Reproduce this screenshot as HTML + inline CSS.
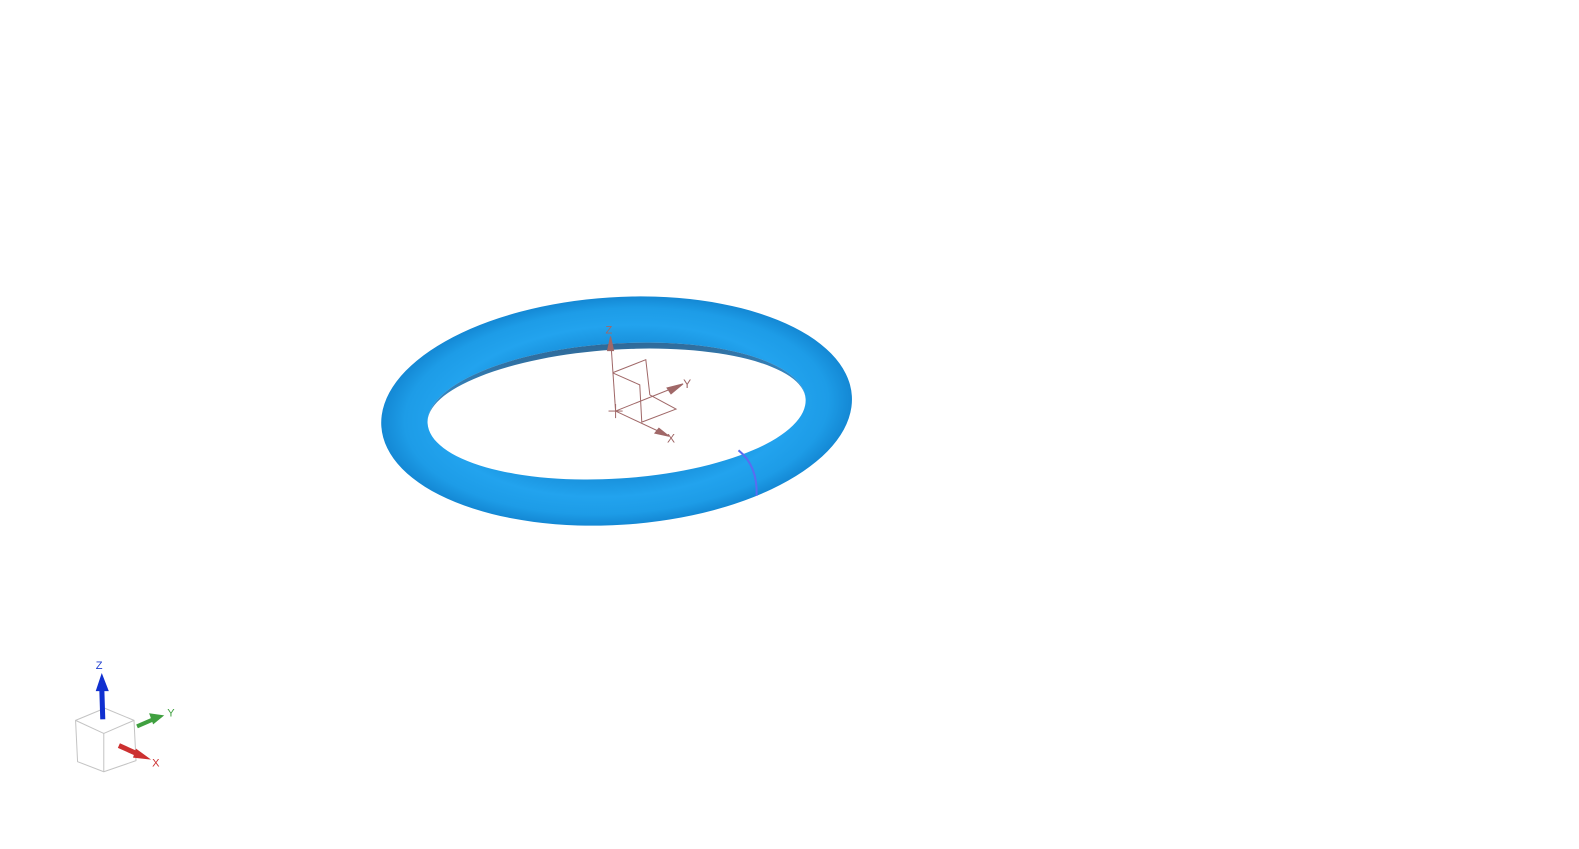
<!DOCTYPE html>
<html><head><meta charset="utf-8"><style>
html,body{margin:0;padding:0;background:#fff;width:1579px;height:849px;overflow:hidden}
text{font-family:"Liberation Sans",sans-serif}
</style></head><body>
<svg width="1579" height="849" viewBox="0 0 1579 849">
<defs>
<radialGradient id="rg" cx="0.5" cy="0.5" r="0.5">
<stop offset="0.6" stop-color="#1a93de"/>
<stop offset="0.75" stop-color="#22a3ee"/>
<stop offset="0.9" stop-color="#1d9ce7"/>
<stop offset="1" stop-color="#1488d4"/>
</radialGradient>
<linearGradient id="inner" x1="0" y1="0" x2="0" y2="1">
<stop offset="0" stop-color="#0a4f86"/>
<stop offset="1" stop-color="#1682cc"/>
</linearGradient>
</defs>
<g transform="scale(1.0075)">
<g transform="rotate(-3.7 612 408)">
<path fill-rule="evenodd" fill="url(#rg)" d="M378,408 a234,113 0 1,0 468,0 a234,113 0 1,0 -468,0 Z M424,408 a188,67 0 1,0 376,0 a188,67 0 1,0 -376,0 Z"/>
<path d="M424,408 a188,67 0 0,1 376,0 a188,61 0 0,0 -376,0 Z" fill="url(#inner)" opacity="0.85"/>
</g>
<path d="M733,447 Q752,462 751,492" stroke="#5a6cf0" stroke-width="2" fill="none"/>
<g stroke="#a06868" stroke-width="1" fill="none">
<line x1="611" y1="408" x2="606" y2="335"/>
<polygon points="603,348 609,348 606,334" fill="#a06868"/>
<line x1="611" y1="408" x2="676" y2="382"/>
<polygon points="662,385 666,391 678,381" fill="#a06868"/>
<line x1="611" y1="408" x2="660" y2="431"/>
<polygon points="650,430 654,425 664,433" fill="#a06868"/>
<polyline points="608,370 641,357 645,392"/>
<polyline points="608,370 635,382 637,419 671,406 645,392"/>
<line x1="604" y1="408" x2="618" y2="408"/><line x1="611" y1="401" x2="611" y2="415"/>
<text x="601" y="331" font-size="11" fill="#a06868" stroke="none">Z</text>
<text x="678" y="385" font-size="12" fill="#a06868" stroke="none">Y</text>
<text x="662" y="439" font-size="12" fill="#a06868" stroke="none">X</text>
</g>
<g stroke-linejoin="round">
<g fill="none" stroke="#c4c4c4" stroke-width="1">
<polygon points="75,715 104,703 133,715 103,728"/>
<polyline points="75,715 77,756 103,766 103,728"/>
<polyline points="133,715 135,755 103,766"/>
</g>
<line x1="102" y1="714" x2="101" y2="682" stroke="#1030d0" stroke-width="5"/>
<polygon points="95,686 108,686 101,668" fill="#1030d0"/>
<line x1="136" y1="721" x2="152" y2="714" stroke="#40a040" stroke-width="4"/>
<polygon points="148,708 152,719 163,710" fill="#40a040"/>
<line x1="118" y1="740" x2="138" y2="749" stroke="#cc3030" stroke-width="5"/>
<polygon points="135,743 132,752 150,754" fill="#cc3030"/>
<text x="95" y="664" font-size="11" fill="#2040d0">Z</text>
<text x="166" y="711" font-size="11" fill="#40a040">Y</text>
<text x="151" y="761" font-size="11" fill="#cc3030">X</text>
</g>
</g>
</svg>
</body></html>
